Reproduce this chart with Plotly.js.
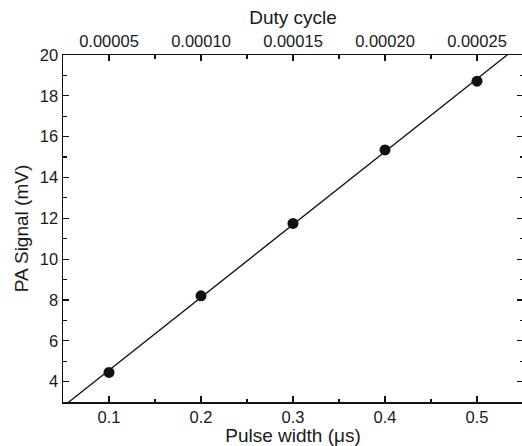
<!DOCTYPE html>
<html>
<head>
<meta charset="utf-8">
<script src="https://cdn.plot.ly/plotly-3.0.1.min.js"></script>
<style>
html,body{margin:0;padding:0;overflow:hidden;background:#fff;}
#chart{width:523px;height:446px;}
</style>
</head>
<body>
<div id="chart"></div>
<script>
// Data
const pulseWidth = [0.1, 0.2, 0.3, 0.4, 0.5];          // µs
const paSignal   = [4.45, 8.2, 11.75, 15.35, 18.72];   // mV
const pulseLabels = ['0.1', '0.2', '0.3', '0.4', '0.5'];
const dutyTicks  = [0.00005, 0.00010, 0.00015, 0.00020, 0.00025];
const dutyLabels = ["0.00005", "0.00010", "0.00015", "0.00020", "0.00025"];
const xRange = [0.05, 0.55];
const yRange = [3, 20];
const dutyRange = [0.000025, 0.000275];

// Linear least-squares fit through the data points
const n = pulseWidth.length;
const mx = pulseWidth.reduce((a,b)=>a+b,0)/n;
const my = paSignal.reduce((a,b)=>a+b,0)/n;
let sxy = 0, sxx = 0;
for (let i=0;i<n;i++){ sxy += (pulseWidth[i]-mx)*(paSignal[i]-my); sxx += (pulseWidth[i]-mx)**2; }
const slope = sxy/sxx, intercept = my - slope*mx;
const fitX = xRange.slice();
const fitY = fitX.map(x => intercept + slope*x);

const font = {family: 'Liberation Sans, Arial, sans-serif', color: '#1a1a1a'};

const traces = [
  {x: fitX, y: fitY, mode: 'lines', line: {color: '#111', width: 1.3}, hoverinfo: 'skip', showlegend: false},
  {x: pulseWidth, y: paSignal, mode: 'markers', marker: {color: '#111', size: 11}, showlegend: false},
  {x: dutyTicks, y: paSignal, xaxis: 'x2', mode: 'markers', marker: {opacity: 0}, hoverinfo: 'skip', showlegend: false}
];

const axisCommon = {
  showgrid: false, zeroline: false, showline: true, linecolor: '#111', linewidth: 1.5,
  ticks: 'inside', ticklen: 6, tickwidth: 1.2, tickcolor: '#111',
  tickfont: Object.assign({size: 16.5}, font)
};
const minorCommon = {ticks: 'inside', ticklen: 3.5, tickwidth: 1.2, tickcolor: '#111'};

const layout = {
  width: 523, height: 446,
  margin: {l: 63, r: 0, t: 55, b: 44, pad: 0},
  paper_bgcolor: '#fff', plot_bgcolor: '#fff',
  font: font,
  xaxis: Object.assign({}, axisCommon, {
    range: xRange, tickmode: 'array', tickvals: pulseWidth, ticktext: pulseLabels,
    minor: Object.assign({dtick: 0.05, tick0: 0}, minorCommon),
    title: {text: 'Pulse width (\u03bcs)', font: Object.assign({size: 19}, font), standoff: 0}
  }),
  xaxis2: Object.assign({}, axisCommon, {
    overlaying: 'x', side: 'top', anchor: 'y', range: dutyRange,
    tickmode: 'array', tickvals: dutyTicks, ticktext: dutyLabels,
    minor: Object.assign({dtick: 0.000025, tick0: 0}, minorCommon),
    title: {text: 'Duty cycle', font: Object.assign({size: 19}, font), standoff: 2}
  }),
  yaxis: Object.assign({}, axisCommon, {
    range: yRange, tick0: 0, dtick: 2, mirror: 'ticks',
    minor: Object.assign({dtick: 1, tick0: 0}, minorCommon),
    title: {text: 'PA Signal (mV)', font: Object.assign({size: 19}, font), standoff: 6}
  })
};

Plotly.newPlot('chart', traces, layout, {displayModeBar: false, staticPlot: true});
</script>
</body>
</html>
